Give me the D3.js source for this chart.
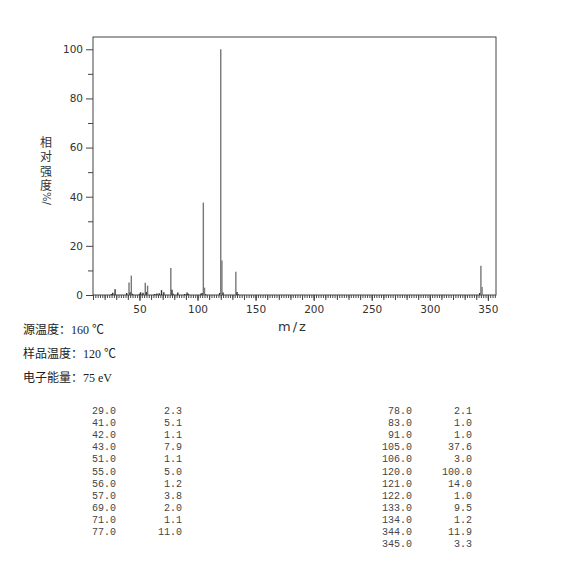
<!DOCTYPE html>
<html>
<head>
<meta charset="utf-8">
<script src="https://cdn.jsdelivr.net/npm/d3@7"></script>
<style>
	body { margin: 0; background: #fff; }
	.axis text { font-family: "DejaVu Sans", sans-serif; font-size: 10.5px; fill: #333; }
	.axis line, .axis path { stroke: #444; }
	.info { font-family: "Liberation Serif", "Noto Sans CJK SC", serif; font-size: 12px; fill: #222; }
	.tbl { font-family: "Liberation Mono", monospace; font-size: 10px; fill: #444; }
</style>
</head>
<body>
<div id="container"></div>
<script>
	// peaks (m/z, relative intensity %)
	var mz        = [26, 27, 29, 39, 41, 42, 43, 44, 50, 51, 53, 55, 56, 57, 63, 65, 67, 69, 71, 77, 78, 79, 83, 89, 91, 92, 103, 104, 105, 106, 107, 119, 120, 121, 122, 133, 134, 135, 343, 344, 345];
	var intensity = [0.4, 0.9, 2.3, 0.8, 5.1, 1.1, 7.9, 0.5, 0.5, 1.1, 0.9, 5.0, 1.2, 3.8, 0.4, 0.6, 0.7, 2.0, 1.1, 11.0, 2.1, 0.5, 1.0, 0.4, 1.0, 0.5, 0.6, 0.8, 37.6, 3.0, 0.3, 0.8, 100.0, 14.0, 1.0, 9.5, 1.2, 0.3, 0.8, 11.9, 3.3];

	var xTicks = [50, 100, 150, 200, 250, 300, 350];
	var yTicks = [0, 20, 40, 60, 80, 100];
	var infoLines = ["源温度：160 ℃", "样品温度：120 ℃", "电子能量：75 eV"];

	var width = 570, height = 570;
	var svg = d3.select("#container").append("svg")
		.attr("width", width)
		.attr("height", height);

	var x = d3.scaleLinear().domain([10, 357]).range([93, 496]);
	var y = d3.scaleLinear().domain([0, 105]).range([295, 37]);

	// frame
	svg.append("rect")
		.attr("x", x.range()[0])
		.attr("y", y.range()[1])
		.attr("width", x.range()[1] - x.range()[0])
		.attr("height", y.range()[0] - y.range()[1])
		.attr("fill", "none")
		.attr("stroke", "#444");

	// x axis: minor every 2, medium every 10, labelled every 50
	var gx = svg.append("g").attr("class", "axis")
		.attr("transform", "translate(0," + y(0) + ")");
	gx.call(d3.axisBottom(x).tickValues(d3.range(12, 357, 2)).tickSize(3).tickFormat(""))
		.call(g => g.select(".domain").remove());
	var gx2 = svg.append("g").attr("class", "axis")
		.attr("transform", "translate(0," + y(0) + ")");
	gx2.call(d3.axisBottom(x).tickValues(d3.range(10, 357, 10)).tickSize(5).tickFormat(""))
		.call(g => g.select(".domain").remove());
	var gx3 = svg.append("g").attr("class", "axis")
		.attr("transform", "translate(0," + y(0) + ")");
	gx3.call(d3.axisBottom(x).tickValues(xTicks).tickSize(6).tickPadding(5))
		.call(g => g.select(".domain").remove());

	// y axis
	var gy = svg.append("g").attr("class", "axis")
		.attr("transform", "translate(" + x.range()[0] + ",0)");
	gy.call(d3.axisLeft(y).tickValues(d3.range(10, 101, 20)).tickSize(5).tickFormat(""))
		.call(g => g.select(".domain").remove());
	var gy2 = svg.append("g").attr("class", "axis")
		.attr("transform", "translate(" + x.range()[0] + ",0)");
	gy2.call(d3.axisLeft(y).tickValues(yTicks).tickSize(7).tickPadding(3))
		.call(g => g.select(".domain").remove());

	// peaks
	svg.append("g").selectAll("line")
		.data(mz)
		.join("line")
		.attr("x1", d => x(d))
		.attr("x2", d => x(d))
		.attr("y1", y(0))
		.attr("y2", (d, i) => y(intensity[i]))
		.attr("stroke", (d, i) => intensity[i] < 3 ? "#333" : "#777")
		.attr("stroke-width", 1.4);

	// y label, stacked vertically
	svg.append("text")
		.attr("x", 46).attr("y", 136)
		.style("writing-mode", "vertical-rl")
		.style("font-family", "'Noto Sans CJK SC', sans-serif")
		.style("font-size", "12px")
		.style("letter-spacing", "2.5px")
		.style("fill", "#333")
		.text("相对强度");
	svg.append("text")
		.attr("transform", "translate(43,192) rotate(90)")
		.style("font-family", "'DejaVu Sans', sans-serif")
		.style("font-size", "10px")
		.style("fill", "#333")
		.text("%/");

	// x label
	svg.append("text")
		.attr("x", 293).attr("y", 331)
		.attr("text-anchor", "middle")
		.style("font-family", "DejaVu Sans, sans-serif")
		.style("font-size", "13px")
		.style("letter-spacing", "2px")
		.style("fill", "#333")
		.text("m/z");

	// instrument info
	svg.selectAll("text.info-line")
		.data(infoLines)
		.join("text")
		.attr("class", "info info-line")
		.attr("x", 23)
		.attr("y", (d, i) => 334 + i * 24)
		.text(d => d);

	// peak table (>= 1 %)
	var rows = mz.map((d, i) => [d, intensity[i]]).filter(r => r[1] >= 1);
	var left = rows.slice(0, 11), right = rows.slice(11);
	function table(data, xm, xi) {
		var g = svg.append("g").attr("class", "tbl");
		data.forEach(function(r, i) {
			g.append("text").attr("x", xm).attr("y", 414 + i * 12.1).attr("text-anchor", "end").text(r[0].toFixed(1));
			g.append("text").attr("x", xi).attr("y", 414 + i * 12.1).attr("text-anchor", "end").text(r[1].toFixed(1));
		});
	}
	table(left, 116, 182);
	table(right, 412, 472);
</script>
</body>
</html>
